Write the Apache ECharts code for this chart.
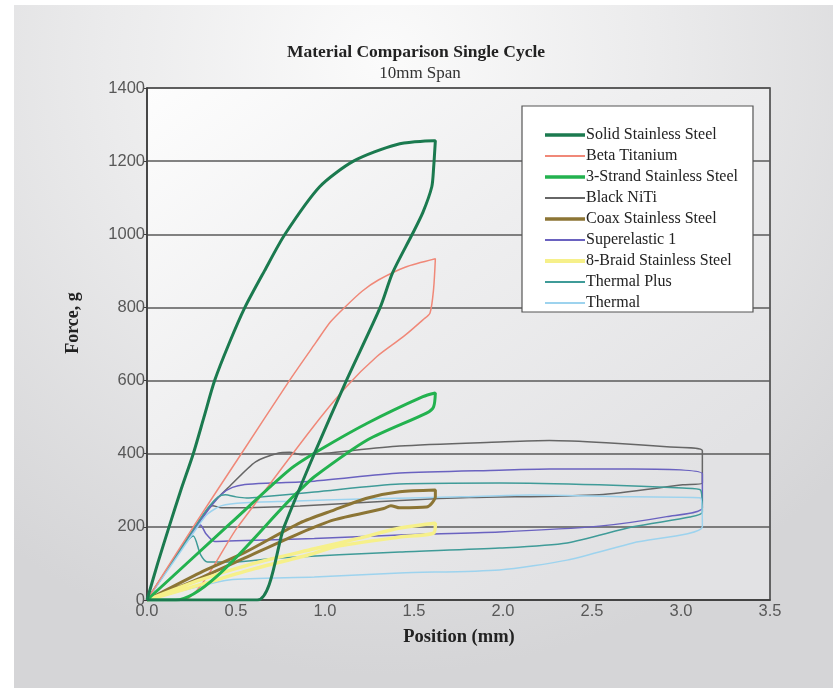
<!DOCTYPE html>
<html><head><meta charset="utf-8">
<script src="https://cdn.jsdelivr.net/npm/echarts@6/dist/echarts.min.js"></script>
<style>html,body{margin:0;padding:0;background:#fff}#c{width:838px;height:688px}</style>
</head><body><div id="c"></div>
<script>
const titleText = 'Material Comparison Single Cycle';
const subtitleText = '10mm Span';
const xAxisName = 'Position (mm)';
const yAxisName = 'Force, g';
const seriesNames = ['Solid Stainless Steel','Beta Titanium','3-Strand Stainless Steel','Black NiTi','Coax Stainless Steel','Superelastic 1','8-Braid Stainless Steel','Thermal Plus','Thermal'];
const seriesColors = ['#1b7a4f','#f08878','#23b24f','#666666','#8c7535','#6a62c0','#f6f08a','#3f9b98','#9dd3ee'];
const seriesWidths = [3,1.5,3,1.5,3,1.5,3.5,1.5,1.5];

const solidStainless = [[0,0],[0.06,100],[0.124,200],[0.19,300],[0.26,400],[0.32,500],[0.38,600],[0.46,700],[0.55,800],[0.66,900],[0.775,1000],[0.97,1130],[1.16,1200],[1.4,1245],[1.61,1256],[1.62,1256],[1.61,1180],[1.6,1130],[1.55,1060],[1.49,1000],[1.38,895],[1.31,800],[1.12,600],[0.94,400],[0.77,200],[0.62,0],[0,0]];
const betaTitanium = [[0,0],[0.26,200],[0.53,400],[0.8,600],[0.95,705],[1.03,760],[1.11,800],[1.21,845],[1.3,875],[1.45,910],[1.62,933],[1.61,850],[1.59,785],[1.55,766],[1.44,720],[1.29,665],[1.12,583],[0.92,465],[0.51,200],[0.2,0],[0,0]];
const threeStrand = [[0,0],[0.47,210],[0.8,356],[0.97,410],[1.24,484],[1.55,556],[1.62,566],[1.61,528],[1.57,511],[1.24,438],[0.94,337],[0.86,301],[0.16,0],[0,0]];
const blackNiTi = [[0,0],[0.15,110],[0.27,200],[0.36,260],[0.46,309],[0.61,378],[0.74,402],[0.8,404],[0.87,397],[1.0,401],[1.42,421],[1.98,432],[2.26,436],[2.58,430],[2.92,419],[3.12,408],[3.12,320],[3.01,315],[2.54,288],[1.81,280],[1.42,272],[0.86,257],[0.5,252],[0.42,252],[0.37,258],[0.27,200],[0.15,110],[0,0]];
const coaxStainless = [[0,0],[0.3,75],[0.55,130],[0.86,211],[1.05,246],[1.24,279],[1.42,296],[1.62,301],[1.62,282],[1.57,254],[1.42,252],[1.37,258],[1.33,250],[1.05,219],[0.86,183],[0.55,115],[0.3,60],[0,0]];
const superelastic1 = [[0,0],[0.15,110],[0.27,195],[0.35,250],[0.42,290],[0.48,308],[0.55,316],[0.7,320],[0.94,325],[1.42,347],[1.98,355],[2.26,358],[2.73,358],[3.12,345],[3.12,252],[2.92,228],[2.54,202],[1.98,186],[1.42,178],[0.94,168],[0.5,162],[0.38,160],[0.33,182],[0.3,205],[0.27,195],[0.15,110],[0,0]];
const braid8 = [[0,0],[0.3,55],[0.6,100],[0.94,140],[1.2,170],[1.42,197],[1.62,210],[1.61,183],[1.42,172],[1.05,145],[0.92,125],[0.6,85],[0.3,42],[0,0]];
const thermalPlus = [[0,0],[0.15,110],[0.27,200],[0.34,250],[0.4,282],[0.44,288],[0.5,282],[0.56,279],[0.65,282],[0.94,295],[1.42,317],[1.98,320],[2.54,315],[3.01,306],[3.11,301],[3.12,240],[3.05,227],[2.73,200],[2.36,156],[1.98,142],[1.42,131],[0.74,115],[0.48,104],[0.34,104],[0.3,125],[0.26,175],[0.15,110],[0,0]];
const thermal = [[0,0],[0.15,105],[0.27,190],[0.34,235],[0.42,258],[0.55,266],[0.8,270],[1.2,276],[1.76,282],[2.15,287],[2.73,282],[3.11,279],[3.12,200],[2.73,156],[2.36,109],[1.98,82],[1.42,74],[0.94,63],[0.46,55],[0.3,38],[0,0]];
const seriesData = [solidStainless, betaTitanium, threeStrand, blackNiTi, coaxStainless, superelastic1, braid8, thermalPlus, thermal];
const seriesZ = [6,3,5,2,4,2,4,2,2];

// keep sharp corners when smoothing: repeat points where the path turns sharply
function keepCorners(pts){
  const out=[pts[0]];
  for(let i=1;i<pts.length-1;i++){
    const a=[(pts[i][0]-pts[i-1][0])*178,(pts[i][1]-pts[i-1][1])*0.3657];
    const b=[(pts[i+1][0]-pts[i][0])*178,(pts[i+1][1]-pts[i][1])*0.3657];
    const la=Math.hypot(a[0],a[1]), lb=Math.hypot(b[0],b[1]);
    out.push(pts[i]);
    if(la>0&&lb>0&&(a[0]*b[0]+a[1]*b[1])/(la*lb)<0.3) out.push(pts[i]);
  }
  out.push(pts[pts.length-1]);
  return out;
}

const chart = echarts.init(document.getElementById('c'), null, {renderer:'canvas'});
const serif = '"Liberation Serif", "DejaVu Serif", serif';
const sans = '"Liberation Sans", Arial, sans-serif';

const series = seriesNames.map((n,i)=>({
  name:n, type:'line', data:keepCorners(seriesData[i]), symbol:'none', smooth:0.25,
  lineStyle:{color:seriesColors[i], width:seriesWidths[i]},
  itemStyle:{color:seriesColors[i]},
  z: seriesZ[i],
  animation:false
}));

chart.setOption({
  animation:false,
  backgroundColor:'#ffffff',
  graphic:[
    {type:'rect', z:-20, silent:true, shape:{x:14,y:5,width:819,height:683},
     style:{fill:{type:'radial',x:0.45,y:0.08,r:0.9,colorStops:[{offset:0,color:'#fbfbfb'},{offset:0.45,color:'#ebebec'},{offset:1,color:'#d5d5d7'}]}}},
    {type:'rect', z:-19, silent:true, shape:{x:147,y:88,width:623,height:512},
     style:{fill:{type:'linear',x:0,y:0,x2:0.6,y2:1,colorStops:[{offset:0,color:'#fdfdfd'},{offset:0.5,color:'#eeeeef'},{offset:1,color:'#e2e2e4'}]}}},
    {type:'text', silent:true, z:10, x:73, y:323, rotation:Math.PI/2,
     style:{text:yAxisName, font:'bold 18px '+serif, fill:'#222', align:'center', verticalAlign:'middle'}},
    {type:'text', silent:true, z:10, x:459, y:637,
     style:{text:xAxisName, font:'bold 18.5px '+serif, fill:'#222', align:'center', verticalAlign:'middle'}},
    {type:'text', silent:true, z:10, x:416, y:52,
     style:{text:titleText, font:'bold 17.5px '+serif, fill:'#222', align:'center', verticalAlign:'middle'}},
    {type:'text', silent:true, z:10, x:420, y:74,
     style:{text:subtitleText, font:'17px '+serif, fill:'#333', align:'center', verticalAlign:'middle'}}
  ],
  grid:{left:147, right:68, top:88, bottom:88, show:true, backgroundColor:'transparent', borderColor:'#3d3d3d', borderWidth:1.5},
  legend:{
    orient:'vertical', left:522, top:106,
    backgroundColor:'#ffffff', borderColor:'#555', borderWidth:1.2,
    padding:[21,15,1,21], itemWidth:40, itemHeight:14, itemGap:5,
    itemStyle:{opacity:0},
    textStyle:{fontFamily:serif, fontSize:16, color:'#222', padding:[0,0,0,-4]},
    data:seriesNames.map((n,i)=>({name:n, lineStyle:{width:seriesWidths[i]+0.5, color:seriesColors[i]}}))
  },
  xAxis:{type:'value', min:0, max:3.5, interval:0.5,
    axisLine:{show:true, onZero:false, lineStyle:{color:'#3d3d3d', width:1.5}},
    axisTick:{show:false},
    splitLine:{show:false},
    axisLabel:{margin:3, fontFamily:sans, fontSize:16.5, color:'#585858', formatter:v=>v.toFixed(1)}
  },
  yAxis:{type:'value', min:0, max:1400, interval:200,
    axisLine:{show:true, lineStyle:{color:'#3d3d3d', width:1.5}},
    axisTick:{show:true, length:4, lineStyle:{color:'#3d3d3d'}},
    splitLine:{show:true, lineStyle:{color:'#5a5a5a', width:1.5}},
    axisLabel:{margin:2, fontFamily:sans, fontSize:16.5, color:'#585858', formatter:v=>String(v)}
  },
  series:series
});
</script></body></html>
